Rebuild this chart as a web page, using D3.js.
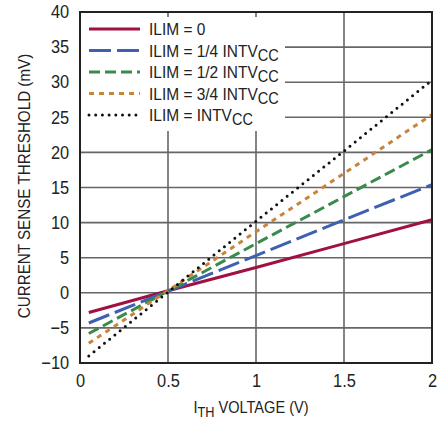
<!DOCTYPE html>
<html><head><meta charset="utf-8">
<script src="https://cdn.jsdelivr.net/npm/d3@7"></script>
<style>
body{margin:0;background:#fff;}
svg text{font-family:"Liberation Sans",Arial,Helvetica,sans-serif;fill:#222;}
</style></head><body>
<svg id="c" width="447" height="421"></svg>
<script>
const xVals = [0.05, 0.5, 1.0, 1.5, 2.0];
const seriesNames = ["ILIM = 0", "ILIM = 1/4 INTV", "ILIM = 1/2 INTV", "ILIM = 3/4 INTV", "ILIM = INTV"];
const seriesSubs = ["", "CC", "CC", "CC", "CC"];
const ilim0 = [-2.8, 0.3, 3.6, 7.0, 10.4];
const ilim14 = [-4.3, 0.25, 5.3, 10.4, 15.4];
const ilim12 = [-5.8, 0.25, 7.0, 13.7, 20.4];
const ilim34 = [-7.2, 0.3, 8.7, 17.0, 25.4];
const ilim1 = [-9.0, 0.1, 10.2, 20.2, 30.3];
const xTicks = [0, 0.5, 1, 1.5, 2];
const xTickLabels = ["0", "0.5", "1", "1.5", "2"];
const yTicks = [-10, -5, 0, 5, 10, 15, 20, 25, 30, 35, 40];
const yTickLabels = ["\u221210", "\u22125", "0", "5", "10", "15", "20", "25", "30", "35", "40"];
const colors = ["#a01040", "#3f5fb0", "#3a8a4c", "#c8843c", "#111"];
const dashes = ["none", "22,6", "11,5", "5,5", "0,6.7"];
const caps = ["butt", "butt", "butt", "butt", "round"];

const SX = 0.91;
const svg = d3.select("#c");
const L = 80, R = 432, T = 12, B = 363;
const x = d3.scaleLinear().domain([0, 2]).range([L, R]);
const y = d3.scaleLinear().domain([-10, 40]).range([B, T]);

// grid
svg.append("g").selectAll("line").data(yTicks.slice(1, -1)).join("line")
  .attr("x1", L).attr("x2", R).attr("y1", d => y(d)).attr("y2", d => y(d))
  .attr("stroke", "#666").attr("stroke-width", 1.6);
svg.append("g").selectAll("line").data(xTicks.slice(1, -1)).join("line")
  .attr("x1", d => x(d)).attr("x2", d => x(d)).attr("y1", T).attr("y2", B)
  .attr("stroke", "#666").attr("stroke-width", 1.6);

// legend background
svg.append("rect").attr("x", L + 1).attr("y", 17).attr("width", 285 - L - 1).attr("height", 114).attr("fill", "#fff");

// series
const allSeries = [ilim0, ilim14, ilim12, ilim34, ilim1];
const line = d3.line().x(d => x(d[0])).y(d => y(d[1]));
allSeries.forEach((s, i) => {
  svg.append("path").datum(xVals.map((v, j) => [v, s[j]]))
    .attr("d", line).attr("fill", "none").attr("stroke", colors[i])
    .attr("stroke-width", 3).attr("stroke-dasharray", dashes[i])
    .attr("stroke-linecap", caps[i]);
});

// frame
svg.append("rect").attr("x", L).attr("y", T).attr("width", R - L).attr("height", B - T)
  .attr("fill", "none").attr("stroke", "#222").attr("stroke-width", 2);

// axes labels
const xAxis = d3.axisBottom(x).tickValues(xTicks).tickSize(0).tickPadding(11)
  .tickFormat((d, i) => xTickLabels[i]);
const gx = svg.append("g").attr("transform", `translate(0,${B})`).call(xAxis);
gx.select(".domain").remove();
gx.selectAll("text").attr("font-size", 18).attr("transform", `scale(${SX},1)`).style("fill", "#222");
const yAxis = d3.axisLeft(y).tickValues(yTicks).tickSize(0).tickPadding(12)
  .tickFormat((d, i) => yTickLabels[i]);
const gy = svg.append("g").attr("transform", `translate(${L},0)`).call(yAxis);
gy.select(".domain").remove();
gy.selectAll("text").attr("font-size", 18).attr("transform", `scale(${SX},1)`).style("fill", "#222");

// legend
const ly0 = 29, lstep = 21.5;
seriesNames.forEach((n, i) => {
  const yy = ly0 + i * lstep;
  svg.append("line").attr("x1", 89).attr("x2", 140).attr("y1", yy).attr("y2", yy)
    .attr("stroke", colors[i]).attr("stroke-width", 3)
    .attr("stroke-dasharray", dashes[i]).attr("stroke-linecap", caps[i]);
  const t = svg.append("text").attr("transform", `translate(149,${yy + 6}) scale(${SX},1)`).attr("font-size", 17);
  t.append("tspan").text(n);
  if (seriesSubs[i]) t.append("tspan").attr("font-size", 16).attr("dy", 4).text(seriesSubs[i]);
});

// titles
const xt = svg.append("text").attr("transform", `translate(251,413) scale(${SX},1)`).attr("text-anchor", "middle").attr("font-size", 16);
xt.append("tspan").text("I");
xt.append("tspan").attr("font-size", 14).attr("dy", 3.5).text("TH");
xt.append("tspan").attr("dy", -3.5).text(" VOLTAGE (V)");
svg.append("text").attr("transform", `translate(30,186) rotate(-90) scale(0.95,1)`).attr("text-anchor", "middle")
  .attr("font-size", 16).text("CURRENT SENSE THRESHOLD (mV)");
</script>
</body></html>
